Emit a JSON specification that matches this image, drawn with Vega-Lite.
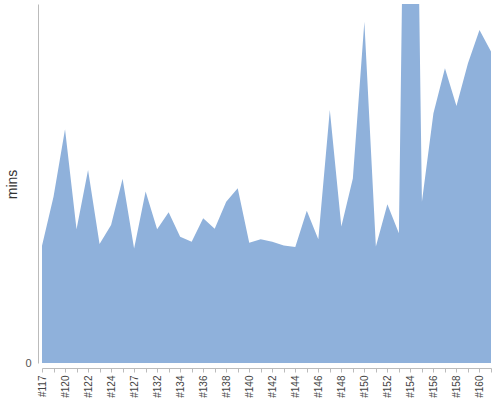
{
  "$schema": "https://vega.github.io/schema/vega-lite/v6.json",
  "autosize": {"type": "none"},
  "padding": {"left": 42, "top": 4, "right": 9, "bottom": 37},
  "width": 449,
  "height": 359,
  "config": {
    "view": {"stroke": null},
    "axis": {"labelFont": "Liberation Sans", "titleFont": "Liberation Sans", "grid": false}
  },
  "data": {
    "values": [
      {"build": "#117", "mins": 39.2},
      {"build": "#118", "mins": 55.6},
      {"build": "#120", "mins": 78.1},
      {"build": "#121", "mins": 44.7},
      {"build": "#122", "mins": 64.5},
      {"build": "#123", "mins": 39.8},
      {"build": "#124", "mins": 46.1},
      {"build": "#125", "mins": 61.6},
      {"build": "#127", "mins": 38.3},
      {"build": "#130", "mins": 57.3},
      {"build": "#132", "mins": 44.7},
      {"build": "#133", "mins": 50.4},
      {"build": "#134", "mins": 42.2},
      {"build": "#135", "mins": 40.5},
      {"build": "#136", "mins": 48.4},
      {"build": "#137", "mins": 44.9},
      {"build": "#138", "mins": 53.9},
      {"build": "#139", "mins": 58.4},
      {"build": "#140", "mins": 40.2},
      {"build": "#141", "mins": 41.4},
      {"build": "#142", "mins": 40.5},
      {"build": "#143", "mins": 39.3},
      {"build": "#144", "mins": 38.8},
      {"build": "#145", "mins": 50.9},
      {"build": "#146", "mins": 41.4},
      {"build": "#147", "mins": 84.6},
      {"build": "#148", "mins": 45.6},
      {"build": "#149", "mins": 61.7},
      {"build": "#150", "mins": 114.1},
      {"build": "#151", "mins": 38.9},
      {"build": "#152", "mins": 53.1},
      {"build": "#153", "mins": 43.4},
      {"build": "#154", "mins": 334},
      {"build": "#155", "mins": 53.9},
      {"build": "#156", "mins": 83.5},
      {"build": "#157", "mins": 98.5},
      {"build": "#158", "mins": 85.9},
      {"build": "#159", "mins": 100.2},
      {"build": "#160", "mins": 111.3},
      {"build": "#161", "mins": 104.1}
    ]
  },
  "mark": {"type": "area", "color": "#8fb1db", "opacity": 1, "clip": true},
  "encoding": {
    "x": {
      "field": "build",
      "type": "ordinal",
      "sort": null,
      "scale": {"type": "point", "padding": 0},
      "axis": {
        "title": null,
        "offset": 5,
        "labelAngle": -90,
        "labelFontSize": 10,
        "labelColor": "#444",
        "labelPadding": 3,
        "labelExpr": "round(datum.index * 39) % 2 == 0 ? datum.label : ''",
        "tickSize": 4,
        "tickColor": "#bbb",
        "domainColor": "#bbb"
      }
    },
    "y": {
      "field": "mins",
      "type": "quantitative",
      "scale": {"domain": [0, 120], "nice": false},
      "axis": {
        "title": "mins",
        "titleFontSize": 14,
        "titleFontWeight": "normal",
        "titleColor": "#333",
        "titleX": -19,
        "titleY": 180,
        "offset": 4,
        "values": [0],
        "ticks": false,
        "labelPadding": 7,
        "labelFontSize": 11,
        "labelColor": "#555",
        "domainColor": "#bbb"
      }
    }
  }
}
